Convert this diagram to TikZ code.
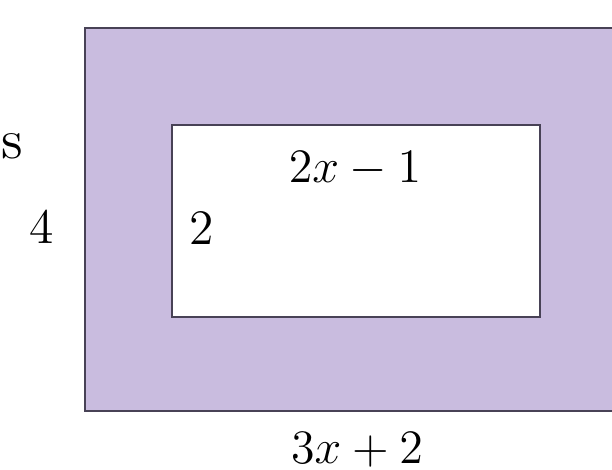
\documentclass[tikz,border=0pt]{standalone}
\usepackage{amsmath}

\definecolor{framefill}{RGB}{201,188,223}
\definecolor{edgegray}{RGB}{72,66,86}

\begin{document}
\begin{tikzpicture}[x=0.25pt,y=0.25pt,
  lbl/.style={inner sep=0pt,font=\fontsize{12.4}{15}\selectfont}]
\clip (0,0) rectangle (612,470);
\fill[white] (0,0) rectangle (612,470);
\draw[line width=0.6pt,draw=edgegray,fill=framefill] (85,59) rectangle (650,442);
\draw[line width=0.6pt,draw=edgegray,fill=white] (172,153) rectangle (540,345);
\node[lbl,font=\fontsize{14}{17}\selectfont,anchor=west] (cut) at (1,324) {s};
\node[lbl] (outerh) at (42,243) {4};
\node[lbl] (innerh) at (202,242) {2};
\node[lbl] (innerw) at (355,301) {$2x-1$};
\node[lbl] (outerw) at (357,20) {$3x+2$};
\end{tikzpicture}
\end{document}
